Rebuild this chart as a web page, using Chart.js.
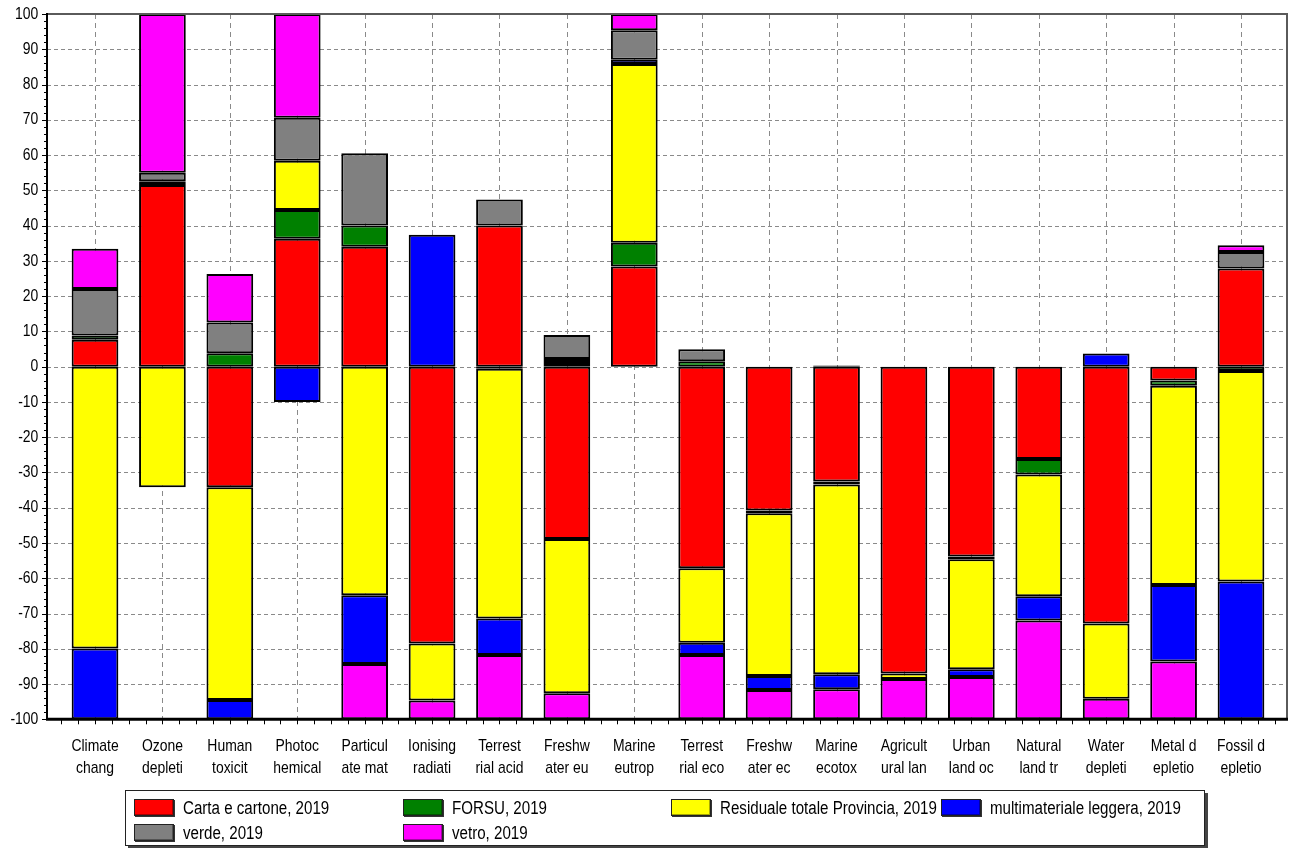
<!DOCTYPE html>
<html>
<head>
<meta charset="utf-8">
<script src="https://cdn.jsdelivr.net/npm/chart.js@4.4.0/dist/chart.umd.min.js"></script>
<style>
  body { margin: 0; background: #fff; }
  #wrap { position: relative; width: 1290px; height: 848px; }
  #lca-legend {
    position: absolute; left: 125px; top: 790px; width: 1078px; height: 54px;
    border: 1px solid #222; box-shadow: 3px 3px 0 #444; background: #fff;
    font-family: "Liberation Sans", Arial, sans-serif;
    font-size: 18px; color: #000;
  }
  .legend-item { position: absolute; height: 18px; line-height: 18px; white-space: nowrap; }
  .legend-box {
    position: absolute; left: 0; top: 0; width: 38px; height: 15px;
    border: 1px solid #222; box-shadow: 1px 1px 0 #333, inset -1px -1px 0 rgba(0,0,0,0.35);
  }
  .legend-text { position: absolute; left: 49px; top: 0; transform: scaleX(0.84); transform-origin: left center; }
</style>
</head>
<body>
<div id="wrap">
  <canvas id="lca-chart" width="1290" height="848"></canvas>
  <div id="lca-legend"></div>
</div>
<script>
// ---------------------------------------------------------------------------------------
// Kategorien (ReCiPe midpoint, abgekürzt wie im Export)

var categories = [
  ["Climate", "chang"], ["Ozone", "depleti"], ["Human", "toxicit"], ["Photoc", "hemical"],
  ["Particul", "ate mat"], ["Ionising", "radiati"], ["Terrest", "rial acid"], ["Freshw", "ater eu"],
  ["Marine", "eutrop"], ["Terrest", "rial eco"], ["Freshw", "ater ec"], ["Marine", "ecotox"],
  ["Agricult", "ural lan"], ["Urban", "land oc"], ["Natural", "land tr"], ["Water", "depleti"],
  ["Metal d", "epletio"], ["Fossil d", "epletio"]
];

var yTicks = [-100, -90, -80, -70, -60, -50, -40, -30, -20, -10, 0, 10, 20, 30, 40, 50, 60, 70, 80, 90, 100];

// Beiträge in %, je Fraktion
var carta_2019        = [7.6, 51.5, -34.2, 36.3, 34.0, -78.5, 40.0, -48.9, 28.4, -57.2, -40.8, -32.6, -87.0, -53.8, -26.2, -72.8, -3.9, 27.8];
var forsu_2019        = [1.2, 1.1, 3.8, 8.1, 6.0, 0, -0.6, 1.0, 6.7, 1.5, -0.8, -0.8, 0, -0.8, -4.4, 0, -1.5, -1.2];
var residuale_2019    = [-79.9, -34.2, -60.3, 14.0, -64.8, -16.2, -70.8, -43.7, 50.7, -21.1, -46.1, -53.8, -1.6, -31.2, -34.5, -21.4, -56.5, -59.7];
var multimateriale_2019 = [-20.1, 0, -5.5, -10.0, -19.5, 37.4, -10.4, 1.2, 1.2, -3.5, -4.0, -4.3, 0, -2.2, -6.9, 3.7, -21.7, -39.1];
var verde_2019        = [13.2, 2.4, 8.7, 12.2, 20.5, 0, 7.4, 6.8, 8.4, 3.4, 0, 0.3, 0, 0, 0, 0, 0, 4.7];
var vetro_2019        = [11.4, 45.0, 13.8, 29.4, -15.7, -5.3, -18.2, -7.4, 4.6, -18.2, -8.3, -8.5, -11.4, -12.0, -28.0, -5.8, -16.4, 1.9];

var fontFamily = '"Liberation Sans", Arial, sans-serif';
var textSqueeze = 0.82;   // Schrift schmal laufen lassen

var datasets = [
  { label: "Carta e cartone, 2019", backgroundColor: "#ff0000", data: carta_2019 },
  { label: "FORSU, 2019", backgroundColor: "#008000", data: forsu_2019 },
  { label: "Residuale totale Provincia, 2019", backgroundColor: "#ffff00", data: residuale_2019 },
  { label: "multimateriale leggera, 2019", backgroundColor: "#0000ff", data: multimateriale_2019 },
  { label: "verde, 2019", backgroundColor: "#808080", data: verde_2019 },
  { label: "vetro, 2019", backgroundColor: "#ff00ff", data: vetro_2019 }
];
datasets.forEach(function(ds){
  ds.borderColor = "#000";
  ds.borderWidth = 2;
  ds.borderSkipped = false;
  ds.barPercentage = 0.693;
  ds.categoryPercentage = 1.0;
});

// ---------------------------------------------------------------------------------------
// Rahmen, gestrichelte Gitterlinien und Teilstriche

var frameLeft = 47, frameRight = 1287;

var framePlugin = {
  id: 'frame',
  beforeInit: function(chart){
    // Achsenbeschriftung horizontal stauchen
    var ctx = chart.ctx;
    var origFill = ctx.fillText;
    ctx.fillText = function(text, x, y, maxWidth){
      this.save();
      this.translate(x, y);
      this.scale(textSqueeze, 1);
      if (maxWidth === undefined) origFill.call(this, text, 0, 0);
      else origFill.call(this, text, 0, 0, maxWidth / textSqueeze);
      this.restore();
    };
  },
  beforeDatasetsDraw: function(chart){
    var ctx = chart.ctx, area = chart.chartArea;
    var y = chart.scales.y, x = chart.scales.x;
    ctx.save();
    ctx.strokeStyle = '#8a8a8a';
    ctx.lineWidth = 1;
    ctx.setLineDash([4, 3]);
    yTicks.forEach(function(v){
      if (v === 100 || v === -100) return;
      var py = Math.round(y.getPixelForValue(v)) + 0.5;
      ctx.beginPath(); ctx.moveTo(frameLeft, py); ctx.lineTo(frameRight, py); ctx.stroke();
    });
    ctx.setLineDash([5, 4]);
    categories.forEach(function(c, i){
      var px = Math.round(x.getPixelForValue(i)) + 0.5;
      ctx.beginPath(); ctx.moveTo(px, area.top); ctx.lineTo(px, area.bottom); ctx.stroke();
    });
    ctx.restore();
  },
  afterDatasetsDraw: function(chart){
    var ctx = chart.ctx, area = chart.chartArea;
    var y = chart.scales.y;
    var top = y.getPixelForValue(100), bottom = y.getPixelForValue(-100);
    ctx.save();
    ctx.setLineDash([]);
    // oben / rechts grau
    ctx.strokeStyle = '#5a5a5a';
    ctx.lineWidth = 2;
    ctx.beginPath(); ctx.moveTo(frameLeft, top); ctx.lineTo(frameRight, top); ctx.lineTo(frameRight, bottom); ctx.stroke();
    // Achsen schwarz
    ctx.strokeStyle = '#000';
    ctx.lineWidth = 2;
    ctx.beginPath(); ctx.moveTo(frameLeft, top - 1); ctx.lineTo(frameLeft, bottom); ctx.stroke();
    ctx.lineWidth = 3;
    ctx.beginPath(); ctx.moveTo(frameLeft - 1, bottom); ctx.lineTo(frameRight + 1, bottom); ctx.stroke();
    // Teilstriche x
    ctx.lineWidth = 1;
    var step = (area.right - area.left) / categories.length / 4;
    for (var k = 0; k <= categories.length * 4; k++) {
      var px = Math.round(area.left + k * step) + 0.5;
      ctx.beginPath(); ctx.moveTo(px, bottom); ctx.lineTo(px, bottom + 5); ctx.stroke();
    }
    // Teilstriche y
    for (var v = -100; v <= 100; v += 2) {
      var py = Math.round(y.getPixelForValue(v)) + 0.5;
      var len = (v % 10 === 0) ? 5 : 3;
      ctx.beginPath(); ctx.moveTo(frameLeft - len, py); ctx.lineTo(frameLeft, py); ctx.stroke();
    }
    ctx.restore();
  }
};

new Chart(document.getElementById("lca-chart"), {
  type: 'bar',
  data: {
    labels: categories,
    datasets: datasets
  },
  options: {
    responsive: false,
    devicePixelRatio: 1,
    animation: false,
    layout: {
      padding: { top: 14, right: 15.3, bottom: 58.7, left: 0 }
    },
    scales: {
      x: {
        stacked: true,
        offset: true,
        grid: { display: false, drawTicks: false },
        border: { display: false },
        ticks: {
          color: '#000',
          padding: 16,
          maxRotation: 0,
          autoSkip: false,
          font: { family: fontFamily, size: 17, lineHeight: 1.3 }
        },
        afterFit: function(scale){ scale.height = 70; }
      },
      y: {
        stacked: true,
        min: -100,
        max: 100,
        grid: { display: false, drawTicks: true, tickLength: 23 },
        border: { display: false },
        ticks: {
          stepSize: 10,
          color: '#000',
          padding: 0,
          font: { family: fontFamily, size: 17 }
        },
        afterFit: function(scale){ scale.width = 61.3; }
      }
    },
    plugins: {
      legend: { display: false },
      tooltip: { enabled: false }
    }
  },
  plugins: [framePlugin]
});

// ---------------------------------------------------------------------------------------
// Legende (4 Spalten, 2 Zeilen)

var legendCols = [8, 277, 545, 815];
var legendRows = [8, 33];
var legendEl = document.getElementById("lca-legend");
datasets.forEach(function(ds, i){
  var item = document.createElement("div");
  item.className = "legend-item";
  item.style.left = legendCols[i % 4] + "px";
  item.style.top = legendRows[Math.floor(i / 4)] + "px";
  item.innerHTML = '<span class="legend-box" style="background:' + ds.backgroundColor + '"></span>' +
                   '<span class="legend-text">' + ds.label + '</span>';
  legendEl.appendChild(item);
});
</script>
</body>
</html>
